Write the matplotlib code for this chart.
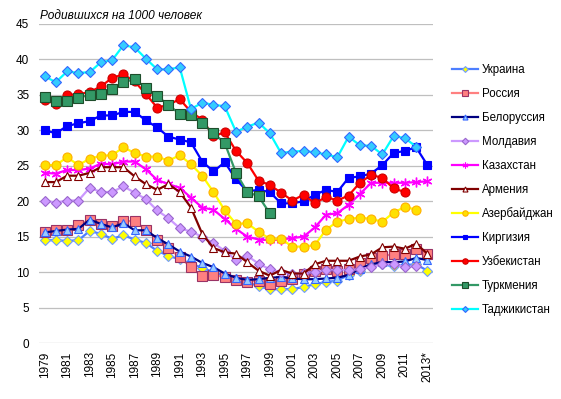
import numpy as np
import matplotlib
matplotlib.use("Agg")
import matplotlib.pyplot as plt
from matplotlib.lines import Line2D

plt.rcParams['font.family'] = ['Liberation Sans', 'DejaVu Sans']

years = list(range(1979, 2014))
year_labels = [str(y) if (y - 1979) % 2 == 0 else '' for y in years]
year_labels[-1] = '2013*'

nan = np.nan

# родившихся на 1000 человек
ukraine = [14.5, 14.5, 14.4, 14.5, 15.8, 15.4, 14.7, 15.2, 14.6, 14.1, 13.0, 12.3, 11.8, 11.2,
           10.6, 10.0, 9.5, 9.0, 8.6, 8.0, 7.6, 7.6, 7.6, 7.9, 8.3, 8.6, 8.8, 9.6, 10.2, 11.0,
           11.1, 10.8, 11.0, 11.1, 10.2]
russia = [15.7, 15.9, 16.0, 16.6, 17.4, 16.8, 16.5, 17.2, 17.2, 16.0, 14.6, 13.4, 12.1, 10.7,
          9.4, 9.6, 9.3, 8.9, 8.6, 8.8, 8.3, 8.7, 9.0, 9.7, 10.2, 10.4, 10.2, 10.4, 11.3, 12.0,
          12.3, 12.5, 12.6, 13.3, 12.6]
belarus = [15.6, 15.8, 16.0, 16.1, 17.4, 16.8, 16.3, 16.9, 15.9, 15.9, 14.8, 13.9, 12.9, 12.2,
           11.3, 10.7, 9.8, 9.2, 8.9, 9.0, 9.2, 9.3, 9.1, 9.0, 9.0, 9.1, 9.2, 9.6, 10.5, 11.1,
           11.4, 11.4, 11.5, 12.0, 11.7]
moldova = [20.1, 19.8, 20.1, 20.1, 21.9, 21.3, 21.3, 22.1, 21.2, 20.3, 18.7, 17.6, 16.2, 15.7,
           15.0, 14.1, 13.0, 11.7, 12.3, 11.2, 10.4, 10.0, 9.7, 9.9, 10.0, 10.3, 10.3, 10.3, 10.4,
           10.7, 11.1, 11.1, 10.7, 10.8, nan]
kazakhstan = [24.0, 23.9, 24.4, 24.4, 24.6, 25.3, 25.2, 25.6, 25.6, 24.5, 23.0, 22.4, 21.9, 20.5,
              19.1, 18.8, 17.5, 16.1, 15.0, 14.6, 14.5, 14.6, 14.8, 15.0, 16.3, 18.1, 18.3, 19.5,
              21.0, 22.6, 22.6, 22.6, 22.6, 22.7, 22.8]
armenia = [22.7, 22.7, 23.6, 23.6, 24.0, 24.8, 24.8, 24.8, 23.5, 22.4, 21.6, 22.4, 21.3, 19.1,
           15.4, 13.4, 12.8, 12.6, 11.4, 10.2, 9.5, 10.3, 9.8, 9.8, 11.1, 11.6, 11.6, 11.6, 12.2,
           12.5, 13.5, 13.6, 13.3, 14.0, 12.6]
azerbaijan = [25.1, 25.1, 26.2, 25.1, 26.0, 26.4, 26.5, 27.6, 26.8, 26.3, 26.3, 25.7, 26.5, 25.2,
              23.6, 21.3, 18.7, 16.8, 16.9, 15.7, 14.7, 14.7, 13.6, 13.6, 13.8, 16.0, 17.1, 17.5,
              17.7, 17.5, 17.1, 18.4, 19.2, 18.8, nan]
kyrgyzstan = [30.0, 29.6, 30.6, 31.0, 31.3, 32.1, 32.1, 32.6, 32.6, 31.4, 30.4, 29.1, 28.7, 28.3,
              25.6, 24.2, 25.5, 23.1, 21.4, 21.6, 21.3, 19.7, 19.7, 20.0, 20.9, 21.6, 21.3, 23.3,
              23.5, 23.9, 25.1, 26.8, 27.1, 27.6, 25.1]
uzbekistan = [34.3, 33.7, 35.0, 35.1, 35.4, 36.2, 37.4, 37.9, 36.9, 35.1, 33.2, 33.6, 34.4, 32.6,
              31.5, 29.2, 29.7, 27.1, 25.4, 22.9, 22.3, 21.2, 20.1, 20.9, 19.7, 20.6, 20.1, 20.8,
              22.6, 23.7, 23.3, 21.8, 21.3, nan, nan]
turkmenistan = [34.7, 34.1, 34.2, 34.6, 35.0, 35.1, 35.8, 36.8, 37.2, 36.0, 34.8, 33.6, 32.3, 32.2,
                31.0, 29.6, 28.2, 24.0, 21.3, 20.7, 18.3] + [nan] * 14
tajikistan = [37.6, 36.8, 38.3, 38.1, 38.2, 39.6, 39.9, 42.0, 41.7, 40.1, 38.6, 38.6, 38.9, 33.0,
              33.9, 33.6, 33.4, 29.8, 30.5, 31.1, 29.6, 26.8, 27.0, 27.1, 26.9, 26.6, 26.2, 29.1,
              27.9, 27.8, 26.6, 29.2, 28.9, 27.7, nan]

asterisk = (6, 2, 0)
# name, data, line colour, marker, face, edge, marker size
series = [
    ('Украина', ukraine, '#4D7FFF', 'D', '#FFFF00', '#6F9BFF', 5),
    ('Россия', russia, '#FF8080', 's', '#FF8080', '#993366', 6.5),
    ('Белоруссия', belarus, '#000080', '^', '#99CCFF', '#3366FF', 6),
    ('Молдавия', moldova, '#CC99FF', 'D', '#CC99FF', '#9966CC', 5.5),
    ('Казахстан', kazakhstan, '#FF00FF', asterisk, '#FF00FF', '#FF00FF', 7),
    ('Армения', armenia, '#800000', '^', '#FFFFFF', '#800000', 6),
    ('Азербайджан', azerbaijan, '#FFFF00', 'o', '#FFE000', '#FFB000', 6.5),
    ('Киргизия', kyrgyzstan, '#0000FF', 's', '#0000FF', '#0000FF', 6),
    ('Узбекистан', uzbekistan, '#FF0000', 'o', '#FF0000', '#CC0000', 6.5),
    ('Туркмения', turkmenistan, '#339966', 's', '#339966', '#1E4D2B', 6.5),
    ('Таджикистан', tajikistan, '#00FFFF', 'D', '#33CCFF', '#3366FF', 5),
]

fig = plt.figure(figsize=(5.61, 3.99), dpi=100)
ax = fig.add_axes([39 / 561, 1 - 343 / 399, (433 - 39) / 561, (343 - 24) / 399])

x = np.arange(len(years))
handles = []
for name, vals, col, mk, fc, ec, ms in series:
    ax.plot(x, vals, color=col, lw=1.6, marker=mk, markersize=ms,
            markerfacecolor=fc, markeredgecolor=ec, markeredgewidth=0.8 if mk != asterisk else 1.0)
    handles.append(Line2D([], [], color=col, lw=1.6, marker=mk, markersize=ms * 0.6,
                          markerfacecolor=fc, markeredgecolor=ec, markeredgewidth=0.8))

ax.set_xlim(-0.5, len(years) - 0.5)
ax.set_ylim(0, 45)
ax.set_yticks(np.arange(0, 46, 5))
ax.set_xticks(x)
ax.set_xticklabels(year_labels, rotation=90, va='top', ha='center')
ax.tick_params(axis='both', length=0, labelsize=8.5, colors='black')
ax.tick_params(axis='y', pad=7)
ax.tick_params(axis='x', pad=6)
ax.grid(axis='y', color='#BFBFBF', lw=0.9)
ax.set_axisbelow(True)
for s in ax.spines.values():
    s.set_visible(False)

fig.text(40 / 561, 1 - 16 / 399, 'Родившихся на 1000 человек', fontsize=8.6,
         style='italic', va='center', ha='left')

fig.legend(handles, [s[0] for s in series], loc='upper left',
           bbox_to_anchor=(447 / 561, 1 - 59 / 399), frameon=False, fontsize=8.3,
           handlelength=2.3, handletextpad=0.3, labelspacing=1.04, borderaxespad=0)

fig.savefig('out.png', dpi=100)
